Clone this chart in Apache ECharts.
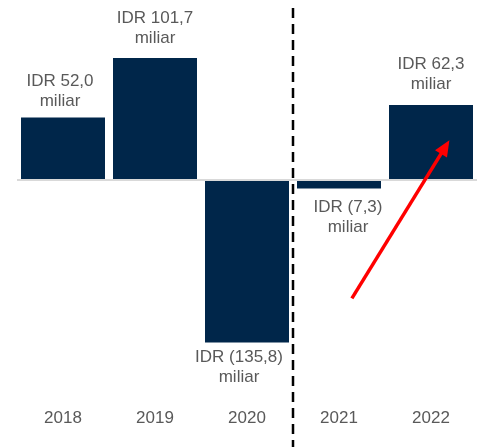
<!DOCTYPE html>
<html>
<head>
<meta charset="utf-8">
<script src="https://cdn.jsdelivr.net/npm/echarts@6/dist/echarts.min.js"></script>
<style>
  html, body { margin: 0; padding: 0; background: #fff; }
  #chart { width: 489px; height: 447px; }
</style>
</head>
<body>
<div id="chart"></div>
<script>
// data
var years = ['2018', '2019', '2020', '2021', '2022'];
var values = [52.0, 101.7, -135.8, -7.3, 62.3];
// arrow annotation, in category-index / value units
var arrowFrom = [3.14, -99];
var arrowTo = [4.2, 33];

var navy = '#00264a';
var grey = '#595959';
var font = '"Liberation Sans", Arial, sans-serif';

// label tweaks per bar: [dx, gap]
var labelShift = [[-3, 6], [0, 10], [-8, 5], [9, 9], [0, 11]];

function fmt(v) {
    var s = Math.abs(v).toFixed(1).replace('.', ',');
    return 'IDR ' + (v < 0 ? '(' + s + ')' : s) + '\nmiliar';
}

var barData = [];
for (var i = 0; i < values.length; i++) {
    var neg = values[i] < 0;
    barData.push({
        value: values[i],
        label: {
            position: neg ? 'bottom' : 'top',
            distance: labelShift[i][1],
            offset: [labelShift[i][0], 0]
        }
    });
}

var chart = echarts.init(document.getElementById('chart'));
chart.setOption({
    animation: false,
    grid: { left: 17, right: 12, top: 0, height: 395.5 },
    xAxis: {
        type: 'category',
        data: years,
        axisLine: { show: false, onZero: false },
        axisTick: { show: false },
        axisLabel: { color: grey, fontSize: 17, fontFamily: font, margin: 14 }
    },
    yAxis: {
        type: 'value',
        min: -180,
        max: 150,
        show: false
    },
    series: [{
        type: 'bar',
        data: barData,
        barWidth: 84,
        itemStyle: { color: navy },
        label: {
            show: true,
            color: grey,
            fontSize: 17,
            fontFamily: font,
            lineHeight: 20,
            align: 'center',
            formatter: function (p) { return fmt(p.value); }
        },
        markLine: {
            silent: true,
            symbol: 'none',
            label: { show: false },
            lineStyle: { color: '#d9d9d9', width: 2, type: 'solid' },
            data: [{ yAxis: 0 }]
        }
    }]
});

function px(idx, val) {
    var a = chart.convertToPixel({ gridIndex: 0 }, [Math.floor(idx), val]);
    var b = chart.convertToPixel({ gridIndex: 0 }, [Math.floor(idx) + 1, val]);
    var f = idx - Math.floor(idx);
    return [a[0] + (b[0] - a[0]) * f, a[1]];
}

var divX = (px(2, 0)[0] + px(3, 0)[0]) / 2;
var p0 = px(arrowFrom[0], arrowFrom[1]);
var p1 = px(arrowTo[0], arrowTo[1]);
var dx = p1[0] - p0[0], dy = p1[1] - p0[1];
var len = Math.sqrt(dx * dx + dy * dy);
var ux = dx / len, uy = dy / len;
var headLen = 16, headHalf = 7;
var base = [p1[0] - ux * headLen, p1[1] - uy * headLen];

chart.setOption({
    graphic: [
        {
            type: 'line',
            silent: true,
            z: 100,
            shape: { x1: divX, y1: 8, x2: divX, y2: 447 },
            style: { stroke: '#000', lineWidth: 2.5, lineDash: [10, 6] }
        },
        {
            type: 'line',
            silent: true,
            z: 100,
            shape: { x1: p0[0], y1: p0[1], x2: base[0] + ux * 2, y2: base[1] + uy * 2 },
            style: { stroke: '#ff0000', lineWidth: 3.5 }
        },
        {
            type: 'polygon',
            silent: true,
            z: 100,
            shape: {
                points: [
                    p1,
                    [base[0] - uy * headHalf, base[1] + ux * headHalf],
                    [base[0] + uy * headHalf, base[1] - ux * headHalf]
                ]
            },
            style: { fill: '#ff0000' }
        }
    ]
});
</script>
</body>
</html>
